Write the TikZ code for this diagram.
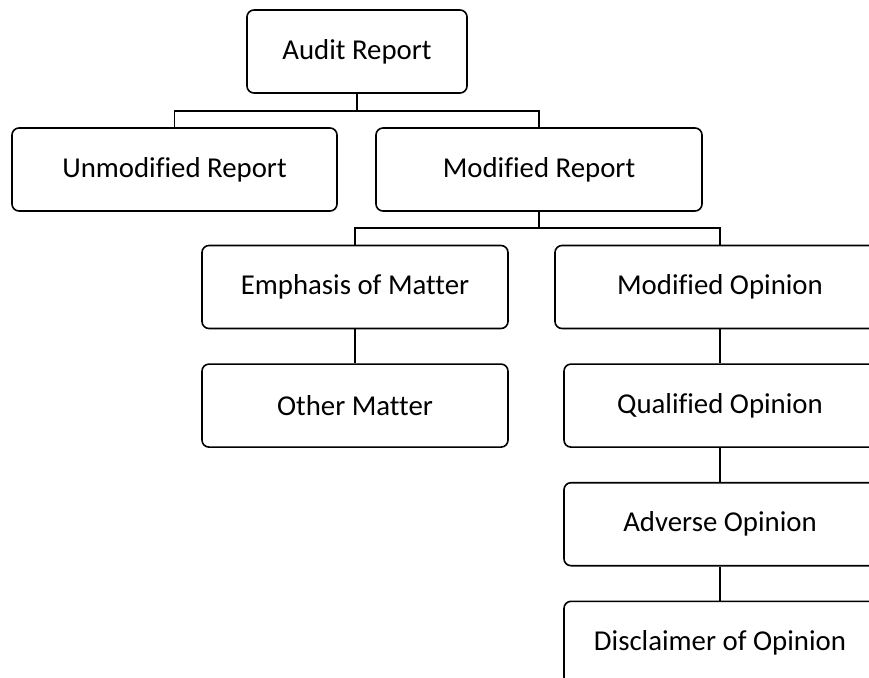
\documentclass[tikz,border=0pt]{standalone}
\usepackage{fontspec}
\setmainfont[Ligatures=NoCommon]{Carlito}
\usetikzlibrary{
    positioning
}
\tikzstyle{report} = [draw, thick, rounded corners=3.5pt, minimum height=41.5pt, inner sep=0, font=\fontsize{14.4}{17}\selectfont]
\tikzstyle{link} = [semithick]

\begin{document}
\begin{tikzpicture}[x=0.5pt, y=-0.5pt, node distance=17pt]
    \clip (0,0) rectangle (869,677);

    \node[report, minimum width=110pt] (Audit) at (357,51.5) {Audit Report};
    \node[report, minimum width=162.5pt] (Unmod) at (174.5,169.5) {Unmodified Report};
    \node[report, minimum width=163pt] (Mod) at (539,169.5) {Modified Report};

    \node[report, minimum width=153pt] (Emph) at (355,287) {Emphasis of Matter};
    \node[report, minimum width=153pt] (Other) [below=of Emph] {Other Matter};

    \node[report, minimum width=165pt] (ModOp) at (720,287) {Modified Opinion};
    \node[report, minimum width=156pt] (Qual) [below=of ModOp] {Qualified Opinion};
    \node[report, minimum width=156pt] (Adv) [below=of Qual] {Adverse Opinion};
    \node[report, minimum width=156pt] (Disc) [below=of Adv] {Disclaimer of Opinion};

    \coordinate (split1) at (357,111);
    \coordinate (split2) at (539,228);

    \draw[link] (Audit) -- (split1);
    \draw[link] (Unmod.north) |- (split1) -| (Mod.north);
    \draw[link] (Mod) -- (split2);
    \draw[link] (Emph.north) |- (split2) -| (ModOp.north);

    \foreach \Top / \Bottom in {Emph/Other, ModOp/Qual, Qual/Adv, Adv/Disc}{
    \draw[link] (\Top) -- (\Bottom);
    }
\end{tikzpicture}
\end{document}
